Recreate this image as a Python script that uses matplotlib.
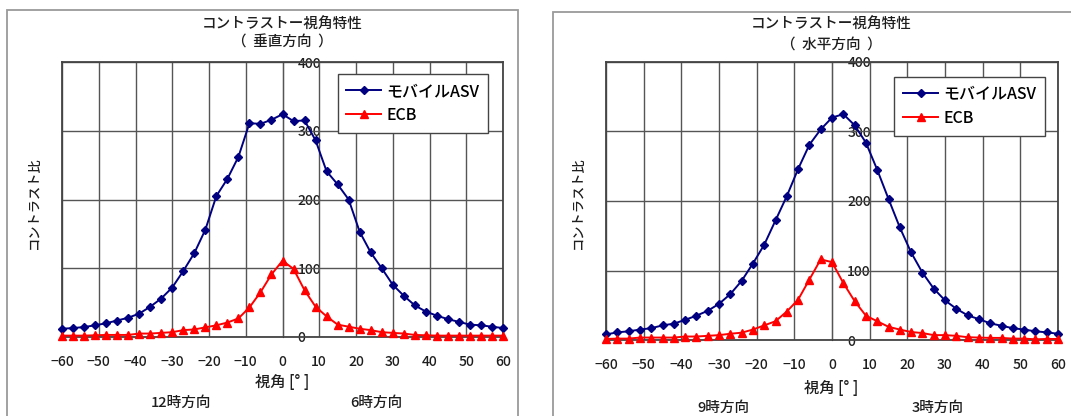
import matplotlib
matplotlib.use("Agg")
import matplotlib.pyplot as plt
from matplotlib.patches import Rectangle

plt.rcParams["font.family"] = ["Noto Sans CJK JP", "DejaVu Sans"]

# Viewing angle [deg], measured every 3 degrees
angles = list(range(-60, 61, 3))

# Vertical direction (12 o'clock <-> 6 o'clock)
vert_asv = [12, 13, 14.5, 17, 20, 24, 28, 34, 44, 56, 72, 96, 122, 156, 205, 230,
            262, 311, 310, 316, 324, 314, 315, 286, 241, 222, 200, 153, 123, 100,
            76, 60, 46, 37, 31, 26, 22, 18, 17, 15, 13]
vert_ecb = [2, 2, 2, 2.5, 3, 3, 3, 5, 5, 6, 7, 10, 11, 14, 17, 21, 27, 43, 65, 91,
            111, 99, 68, 44, 30, 18, 15, 12, 10, 7, 6, 5, 3, 2.5, 2, 2, 2, 2, 2, 2, 2]

# Horizontal direction (9 o'clock <-> 3 o'clock)
horiz_asv = [8, 11, 12.5, 15, 17, 21, 23.5, 29, 35, 42, 52, 66, 85, 110, 137, 172,
             207, 246, 281, 303, 320, 325, 309, 284, 245, 203, 162, 126, 97, 74,
             57, 45, 35.5, 30, 24, 20.5, 17, 15, 12.5, 11, 9]
horiz_ecb = [1.5, 2, 2, 3.5, 3.5, 3.5, 3.5, 5, 5, 6, 7, 9, 10.5, 15, 21, 27, 41, 58,
             87, 116, 112, 82, 56, 35, 27, 19, 15, 11.5, 10, 7, 7, 6, 4, 3.5, 3, 3,
             2, 2, 1, 1.5, 1.5]

y_ticks = [0, 100, 200, 300, 400]
x_ticks = list(range(-60, 61, 10))

title_main = "コントラストー視角特性"
series_names = ["モバイルASV", "ECB"]
x_label = "視角 [° ]"
y_label = "コントラスト比"

W, H = 1071, 416
TXT = "#1e1e1e"
fig = plt.figure(figsize=(W / 100, H / 100), dpi=100)


def fx(px):
    return px / W


def fy(py):
    return 1 - py / H


# Outer frames of the two chart panels
for x0, y0, x1, y1 in [(7, 10, 518, 420), (553, 12, 1075, 420)]:
    fig.patches.append(Rectangle((fx(x0), fy(y1)), fx(x1 - x0), fy(y0) - fy(y1),
                                 transform=fig.transFigure, fill=False,
                                 edgecolor="#9a9a9a", linewidth=1.3,
                                 clip_on=False))


def draw_panel(box, asv, ecb, subtitle, dirs, title_x, title_y, xl_y, dir_y,
               ylab_x, zero_lw, zero_color, leg_anchor, tick_pad):
    left, top, right, bottom = box
    ax = fig.add_axes([fx(left), fy(bottom), fx(right - left), fy(top) - fy(bottom)])
    ax.set_xlim(-60, 60)
    ax.set_ylim(0, 400)
    ax.set_xticks(x_ticks)
    ax.set_yticks(y_ticks)
    ax.grid(True, color="#555555", linewidth=1.0)
    ax.set_axisbelow(True)
    for s in ax.spines.values():
        s.set_color("#444444")
        s.set_linewidth(1.3)
    ax.tick_params(axis="y", left=False, labelleft=False)
    ax.tick_params(axis="x", length=0, pad=tick_pad, labelsize=10, colors=TXT)
    for lab in ax.get_xticklabels():
        lab.set_fontweight("medium")

    # Value axis drawn through the zero-degree line
    sec = ax.secondary_yaxis(0.5)
    sec.set_yticks(y_ticks)
    sec.tick_params(length=0, pad=11, labelsize=10, colors=TXT)
    for lab in sec.get_yticklabels():
        lab.set_fontweight("medium")
    sec.spines["left"].set_color(zero_color)
    sec.spines["left"].set_linewidth(zero_lw)

    l1, = ax.plot(angles, asv, color="#000080", marker="D", markersize=4.2,
                  linewidth=1.4, clip_on=False, zorder=4)
    l2, = ax.plot(angles, ecb, color="#ff0000", marker="^", markersize=5.2,
                  linewidth=1.4, clip_on=False, zorder=5)
    leg = ax.legend([l1, l2], series_names, loc="upper right",
                    bbox_to_anchor=leg_anchor,
                    prop={"size": 11.5, "weight": "medium"}, frameon=True,
                    fancybox=False, edgecolor="#444444", framealpha=1,
                    handlelength=2.2, handletextpad=0.3, borderpad=0.55,
                    labelspacing=0.45, borderaxespad=0)
    leg.get_frame().set_linewidth(1.0)

    kw = dict(ha="center", va="center", color=TXT, fontweight="medium")
    fig.text(fx(title_x), fy(title_y[0]), title_main, fontsize=10.5, **kw)
    fig.text(fx(title_x), fy(title_y[1]), subtitle, fontsize=10.5, **kw)
    fig.text(fx(title_x), fy(xl_y), x_label, fontsize=11, **kw)
    fig.text(fx(dirs[0][1]), fy(dir_y), dirs[0][0], fontsize=10.5, **kw)
    fig.text(fx(dirs[1][1]), fy(dir_y), dirs[1][0], fontsize=10.5, **kw)
    fig.text(fx(ylab_x), fy(203), y_label, rotation=90, fontsize=9.5, **kw)
    return ax


draw_panel((62, 62, 503, 337), vert_asv, vert_ecb, "（  垂直方向  ）",
           [("12時方向", 181), ("6時方向", 376)], 282, (25, 43), 383, 403, 34,
           1.0, "#555555", (0.966, 0.956), 13)
draw_panel((606, 62, 1058, 340), horiz_asv, horiz_ecb, "（  水平方向  ）",
           [("9時方向", 723), ("3時方向", 938)], 831, (25, 45), 388, 408, 578,
           2.0, "#333333", (0.971, 0.946), 13)

fig.savefig("out.png", dpi=100, facecolor="white")
